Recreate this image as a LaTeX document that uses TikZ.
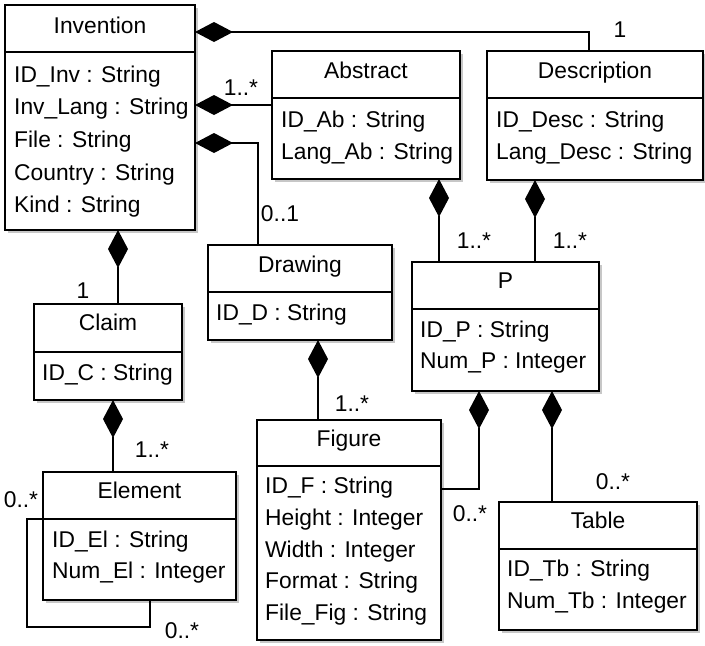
\documentclass[tikz,border=0pt]{standalone}
\usepackage{fontspec}
\setmainfont{Liberation Sans}
\usetikzlibrary{arrows.meta,calc,fit}

% Class box: name, x1, y1, x2, y2, divider y, title baseline, title
\newcommand{\umlbox}[8]{%
  \fill[boxshadow] (#2+2.5,#3+2.5) rectangle (#4+2.5,#5+2.5);
  \node[classbox, fit={(#2,#3) (#4,#5)}] (#1) {};
  \draw[boxline] (#2,#6) -- (#4,#6);
  \node[titletext] (#1-title) at ({(#2+#4)/2},#7) {#8};
}

\begin{document}
\begin{tikzpicture}[x=1pt,y=-1pt,
  every node/.style={font=\fontsize{22.8}{27}\selectfont},
  boxline/.style={line width=1.6pt},
  boxshadow/.style={black!22},
  classbox/.style={draw, fill=white, line width=1.6pt, inner sep=0pt, outer sep=0pt},
  titletext/.style={anchor=base, inner sep=0pt},
  attr/.style={anchor=base west, inner sep=0pt},
  mult/.style={inner sep=0pt},
  conn/.style={line width=1.4pt},
  comp/.style={conn, {Diamond[length=38pt,width=20pt]}-}
]
\useasboundingbox (0,0) rectangle (705,646);

% ---------- classes ----------
\umlbox{inv}{5}{5}{195}{230}{52}{33}{Invention}
\node[attr] (inv-a1) at (14,82)    {ID\_Inv : String};
\node[attr] (inv-a2) at (14,114.5) {Inv\_Lang : String};
\node[attr] (inv-a3) at (14,147)   {File : String};
\node[attr] (inv-a4) at (14,180)   {Country : String};
\node[attr] (inv-a5) at (14,212.5) {Kind : String};

\umlbox{abs}{272}{51}{460}{179}{98}{78}{Abstract}
\node[attr] (abs-a1) at (281,127)   {ID\_Ab : String};
\node[attr] (abs-a2) at (281,159.5) {Lang\_Ab : String};

\umlbox{desc}{487}{51}{703}{180}{98}{78}{Description}
\node[attr] (desc-a1) at (496,127)   {ID\_Desc : String};
\node[attr] (desc-a2) at (496,159.5) {Lang\_Desc : String};

\umlbox{claim}{34}{304}{182}{400}{352}{330}{Claim}
\node[attr] (claim-a1) at (42,380) {ID\_C : String};

\umlbox{elem}{43}{472}{236}{600}{519}{498}{Element}
\node[attr] (elem-a1) at (52,547) {ID\_El : String};
\node[attr] (elem-a2) at (52,578) {Num\_El : Integer};

\umlbox{drw}{208}{245}{392}{340}{292}{272}{Drawing}
\node[attr] (drw-a1) at (216,320) {ID\_D : String};

\umlbox{p}{412}{262}{599}{391}{309}{288}{P}
\node[attr] (p-a1) at (420,337) {ID\_P : String};
\node[attr] (p-a2) at (420,368) {Num\_P : Integer};

\umlbox{fig}{257}{420}{441}{640}{466}{446}{Figure}
\node[attr] (fig-a1) at (265,493) {ID\_F : String};
\node[attr] (fig-a2) at (265,525) {Height : Integer};
\node[attr] (fig-a3) at (265,557) {Width : Integer};
\node[attr] (fig-a4) at (265,588.5) {Format : String};
\node[attr] (fig-a5) at (265,620) {File\_Fig : String};

\umlbox{tab}{499}{502}{697}{630}{549}{528}{Table}
\node[attr] (tab-a1) at (507,576) {ID\_Tb : String};
\node[attr] (tab-a2) at (507,608) {Num\_Tb : Integer};

% ---------- compositions ----------
\draw[comp] ($(inv.north east)+(0,27)$) -| ($(desc.north west)+(102,0)$);
\draw[comp] ($(inv.north east)+(0,100)$) -- ($(abs.north west)+(0,54)$);
\draw[comp] ($(inv.north east)+(0,138)$) -| ($(drw.north west)+(50,0)$);
\draw[comp] ($(inv.south west)+(113,0)$) -- ($(claim.north west)+(84,0)$);
\draw[comp] ($(claim.south west)+(79,0)$) -- ($(elem.north west)+(70,0)$);
\draw[comp] ($(drw.south west)+(110,0)$) -- ($(fig.north west)+(61,0)$);
\draw[comp] ($(abs.south west)+(167,0)$) -- ($(p.north west)+(27,0)$);
\draw[comp] ($(desc.south west)+(48,0)$) -- ($(p.north west)+(123,0)$);
\draw[comp] ($(p.south west)+(67,0)$) |- ($(fig.north east)+(0,69)$);
\draw[comp] ($(p.south west)+(140,0)$) -- ($(tab.north west)+(53,0)$);

% Element self-association
\draw[conn] ($(elem.north west)+(0,47)$) -- ++(-16,0) |- ($(elem.south west)+(107,27)$) -- ($(elem.south west)+(107,0)$);

% ---------- multiplicities ----------
\node[mult] (m-desc)  at (620,30)  {1};
\node[mult] (m-abs)   at (241,88)  {1..*};
\node[mult] (m-drw)   at (280,214) {0..1};
\node[mult] (m-claim) at (83,291)  {1};
\node[mult] (m-elem)  at (152,450) {1..*};
\node[mult] (m-self1) at (21,500)  {0..*};
\node[mult] (m-self2) at (182,631) {0..*};
\node[mult] (m-fig)   at (352,404) {1..*};
\node[mult] (m-pab)   at (474,241) {1..*};
\node[mult] (m-pde)   at (570,241) {1..*};
\node[mult] (m-pfig)  at (470,514) {0..*};
\node[mult] (m-tab)   at (613,482) {0..*};
\end{tikzpicture}
\end{document}
